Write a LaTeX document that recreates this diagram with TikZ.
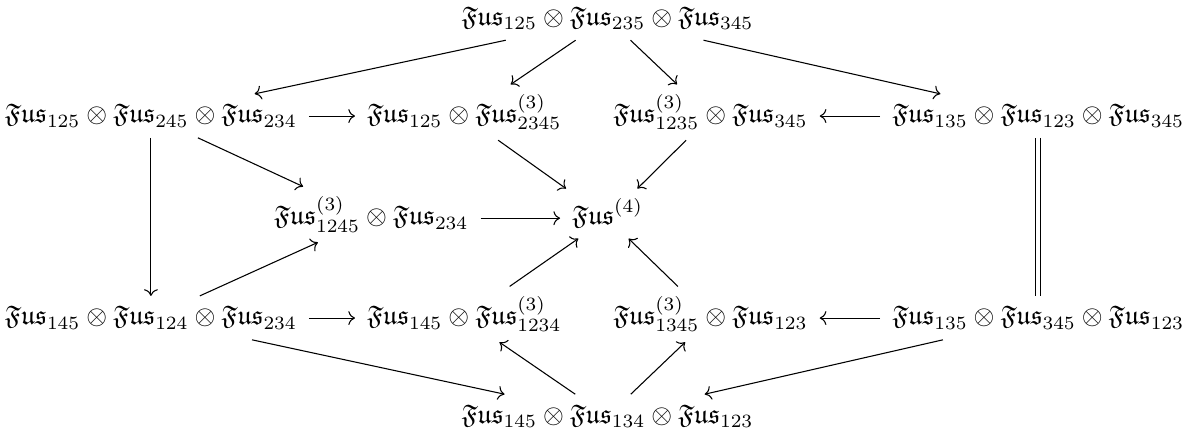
\documentclass[tikz,border=0pt]{standalone}
\usepackage{tikz}
\usepackage{amsfonts}
\usetikzlibrary{cd}
\usetikzlibrary{arrows.meta}
\tikzstyle{fusarrow}=[-{Computer Modern Rightarrow}]
\tikzstyle{fus}=[shape=asymmetrical rectangle, inner xsep=1ex, inner ysep=0.85ex, anchor=base]
\newcommand{\Fus}{\mathfrak{Fus}}

\begin{document}
\begin{tikzpicture}
        \useasboundingbox (0,0) rectangle (15.65,-5.68);

        \node[fus] (top) at (7.97,-0.33) {$\Fus_{125}\otimes\Fus_{235}\otimes\Fus_{345}$};

        \node[fus] (A) at (1.98,-1.61) {$\Fus_{125}\otimes\Fus_{245}\otimes\Fus_{234}$};
        \node[fus] (B) at (6.09,-1.61) {$\Fus_{125}\otimes\Fus^{(3)}_{2345}$};
        \node[fus] (C) at (9.32,-1.61) {$\Fus^{(3)}_{1235}\otimes\Fus_{345}$};
        \node[fus] (D) at (13.62,-1.61) {$\Fus_{135}\otimes\Fus_{123}\otimes\Fus_{345}$};

        \node[fus] (E) at (4.87,-2.95) {$\Fus^{(3)}_{1245}\otimes\Fus_{234}$};
        \node[fus] (F) at (7.97,-2.95) {$\Fus^{(4)}$};

        \node[fus] (G) at (1.98,-4.26) {$\Fus_{145}\otimes\Fus_{124}\otimes\Fus_{234}$};
        \node[fus] (H) at (6.09,-4.26) {$\Fus_{145}\otimes\Fus^{(3)}_{1234}$};
        \node[fus] (I) at (9.32,-4.26) {$\Fus^{(3)}_{1345}\otimes\Fus_{123}$};
        \node[fus] (J) at (13.62,-4.26) {$\Fus_{135}\otimes\Fus_{345}\otimes\Fus_{123}$};

        \node[fus] (K) at (7.97,-5.55) {$\Fus_{145}\otimes\Fus_{134}\otimes\Fus_{123}$};

        \draw[fusarrow]
            (top) edge (A)
            (top) edge (B)
            (top) edge (C)
            (top) edge (D)
            (A) edge (B)
            (D) edge (C)
            (A) edge (E)
            (A) edge (G)
            (B) edge (F)
            (C) edge (F)
            (E) edge (F)
            (G) edge (E)
            (H) edge (F)
            (I) edge (F)
            (G) edge (H)
            (J) edge (I)
            (G) edge (K)
            (K) edge (H)
            (K) edge (I)
            (J) edge (K);
        \draw[double, double equal sign distance] (D) -- (J);

\end{tikzpicture}
\end{document}
